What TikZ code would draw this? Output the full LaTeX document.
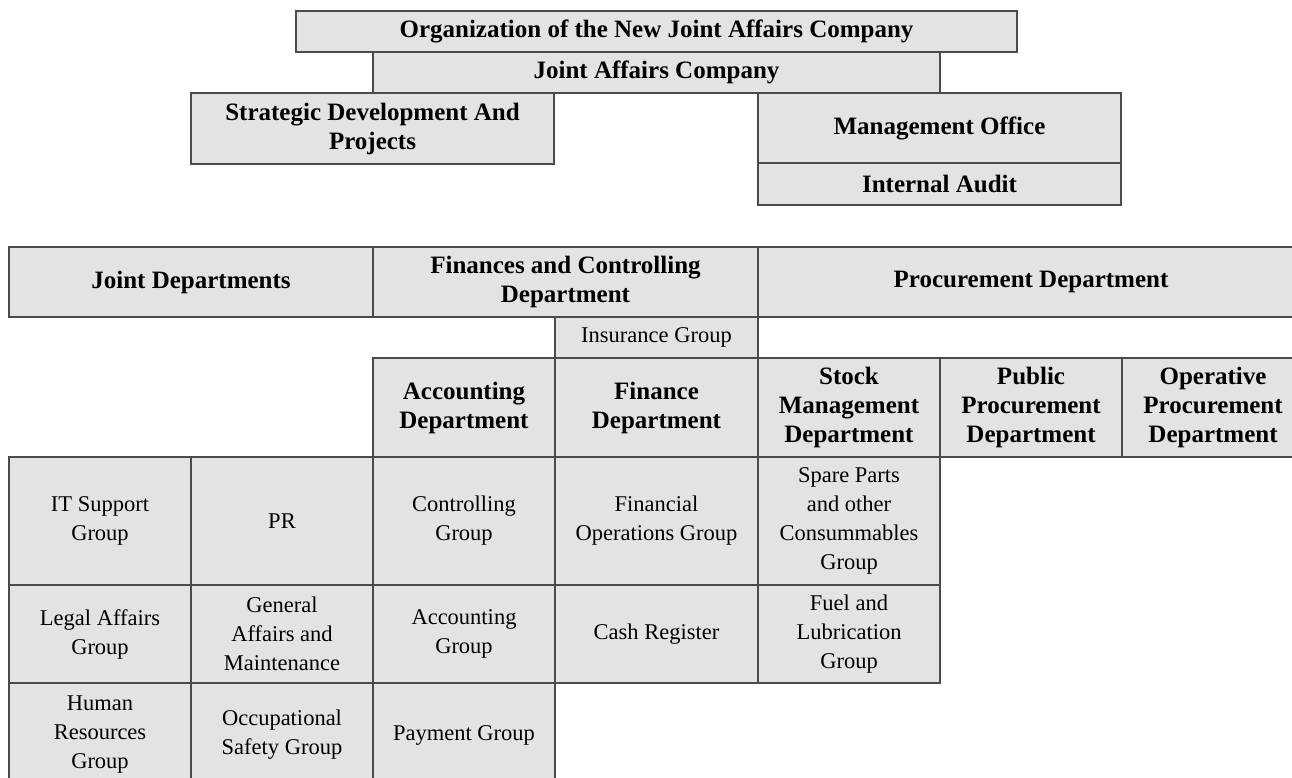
\documentclass[tikz,border=0pt]{standalone}
\usepackage{fontspec}
\setmainfont{Liberation Serif}
\usepackage{tikz}
\usetikzlibrary{positioning}

\definecolor{cellgray}{RGB}{226,227,229}
\definecolor{rulegray}{RGB}{75,75,75}

\tikzset{
  cell/.style={draw=rulegray, fill=cellgray, line width=1.4pt, outer sep=0pt,
    inner sep=1pt, anchor=north west, align=center,
    font=\fontsize{22.5}{29}\selectfont},
  headcell/.style={cell, font=\fontsize{25}{29}\selectfont\bfseries},
  % row heights
  toprow/.style={minimum height=41pt},
  secrow/.style={minimum height=70pt},
  deprow/.style={minimum height=99pt},
  rowa/.style={minimum height=128pt},
  rowb/.style={minimum height=98pt},
  rowc/.style={minimum height=104pt},
  % column widths
  narrow/.style={minimum width=182pt},
  wide/.style={minimum width=203pt}
}

\begin{document}
\begin{tikzpicture}[x=1pt, y=-1pt]
    \useasboundingbox (0,0) rectangle (1292,778);
    \clip (0,0) rectangle (1292,778);

    % Company level
    \node (org) [headcell, toprow, minimum width=721pt] at (296,11) {Organization of the New Joint Affairs Company};
    \node (jac) [headcell, toprow, minimum width=567pt] at (373,52) {Joint Affairs Company};
    \node (sdp) [headcell, minimum width=363pt, minimum height=71pt] at (191,93) {Strategic Development And\\Projects};
    \node (mgo) [headcell, minimum width=363pt, minimum height=70pt] at (758,93) {Management Office};
    \node (iau) [headcell, minimum width=363pt, minimum height=42pt] at (758,163) {Internal Audit};

    % Sectors
    \node (jd) [headcell, secrow, minimum width=364pt] at (9,247) {Joint Departments};
    \node (fcd) [headcell, secrow, minimum width=385pt] at (373,247) {Finances and Controlling\\Department};
    \node (pd) [headcell, secrow, minimum width=546pt] at (758,247) {Procurement Department};
    \node (ing) [cell, wide, minimum height=41pt] at (555,317) {Insurance Group};

    % Departments
    \node (acd) [headcell, deprow, narrow] at (373,358) {Accounting\\Department};
    \node (fid) [headcell, deprow, wide] at (555,358) {Finance\\Department};
    \node (smd) [headcell, deprow, narrow] at (758,358) {Stock\\Management\\Department};
    \node (ppd) [headcell, deprow, narrow] at (940,358) {Public\\Procurement\\Department};
    \node (opd) [headcell, deprow, narrow] at (1122,358) {Operative\\Procurement\\Department};

    % Groups, first row
    \node (its) [cell, rowa, narrow] at (9,457) {IT Support\\Group};
    \node (prg) [cell, rowa, narrow] at (191,457) {PR};
    \node (ctg) [cell, rowa, narrow] at (373,457) {Controlling\\Group};
    \node (fog) [cell, rowa, wide] at (555,457) {Financial\\Operations Group};
    \node (spc) [cell, rowa, narrow] at (758,457) {Spare Parts\\and other\\Consummables\\Group};

    % Groups, second row
    \node (lag) [cell, rowb, narrow] at (9,585) {Legal Affairs\\Group};
    \node (gam) [cell, rowb, narrow] at (191,585) {General\\Affairs and\\Maintenance};
    \node (acg) [cell, rowb, narrow] at (373,585) {Accounting\\Group};
    \node (crg) [cell, rowb, wide] at (555,585) {Cash Register};
    \node (flg) [cell, rowb, narrow] at (758,585) {Fuel and\\Lubrication\\Group};

    % Groups, third row
    \node (hrg) [cell, rowc, narrow] at (9,683) {Human\\Resources\\Group};
    \node (osg) [cell, rowc, narrow] at (191,683) {Occupational\\Safety Group};
    \node (pag) [cell, rowc, narrow] at (373,683) {Payment Group};
\end{tikzpicture}
\end{document}
